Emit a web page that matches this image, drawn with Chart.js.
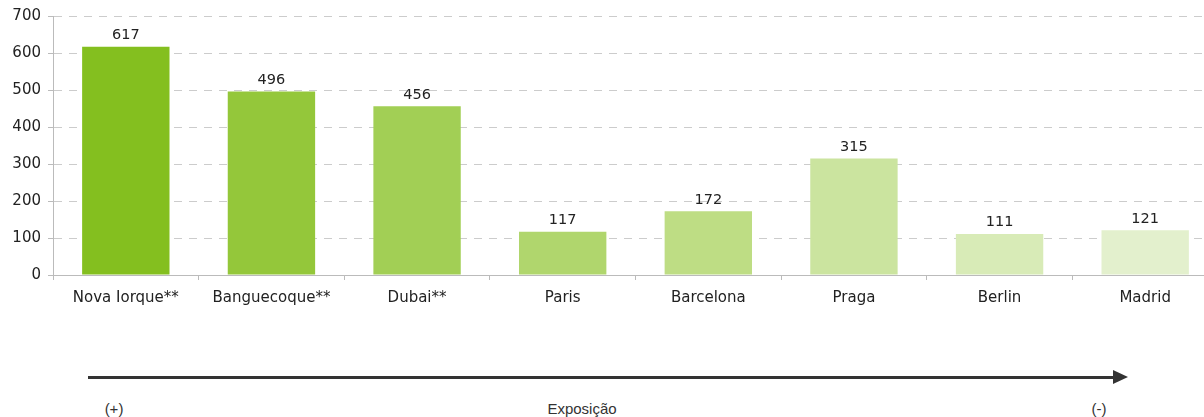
<!DOCTYPE html>
<html>
<head>
<meta charset="utf-8">
<script src="https://cdn.jsdelivr.net/npm/chart.js@4"></script>
<style>
  html, body { margin: 0; padding: 0; background: #fff; }
  body { width: 1204px; height: 417px; overflow: hidden; position: relative; }
  #wrap { position: absolute; left: 0; top: 0; width: 1204px; height: 330px; overflow: hidden; }
  #c { position: absolute; left: 0; top: 0; }
  .lbl { position: absolute; font-family: "Liberation Sans", Arial, sans-serif; font-size: 15px; color: #333; transform: translateX(-50%); white-space: nowrap; line-height: 18px; }
  #line { position: absolute; left: 88px; top: 376px; width: 1027px; height: 3px; background: #333; }
  #head { position: absolute; left: 1113px; top: 370px; width: 0; height: 0; border-top: 7.5px solid transparent; border-bottom: 7.5px solid transparent; border-left: 15px solid #333; }
</style>
</head>
<body>
<div id="wrap"><canvas id="c" width="1218" height="330"></canvas></div>
<div id="line"></div>
<div id="head"></div>
<div class="lbl" style="left:114px; top:400px;">(+)</div>
<div class="lbl" style="left:582px; top:400px;">Exposição</div>
<div class="lbl" style="left:1099px; top:400px;">(-)</div>
<script>
const categories = ["Nova Iorque**", "Banguecoque**", "Dubai**", "Paris", "Barcelona", "Praga", "Berlin", "Madrid"];
const values = [617, 496, 456, 117, 172, 315, 111, 121];
const barColors = ["#84BF1F", "#94C73A", "#A2CF55", "#B0D66D", "#BEDD84", "#CBE49F", "#D8EBB7", "#E3F0CD"];
const yTicks = [0, 100, 200, 300, 400, 500, 600, 700];

const FONT = '"DejaVu Sans", Verdana, sans-serif';

const valueLabels = {
  id: 'valueLabels',
  afterDatasetsDraw(chart) {
    const ctx = chart.ctx;
    const meta = chart.getDatasetMeta(0);
    ctx.save();
    ctx.font = '14.5px ' + FONT;
    ctx.fillStyle = '#222';
    ctx.textAlign = 'center';
    ctx.textBaseline = 'bottom';
    meta.data.forEach((bar, i) => {
      ctx.fillText(String(values[i]), bar.x, bar.y - 4);
    });
    ctx.restore();
  }
};

new Chart(document.getElementById('c'), {
  type: 'bar',
  data: {
    labels: categories,
    datasets: [{
      data: values,
      backgroundColor: barColors,
      borderWidth: 0,
      barPercentage: 0.6,
      categoryPercentage: 1.0
    }]
  },
  options: {
    responsive: false,
    animation: false,
    devicePixelRatio: 1,
    layout: { padding: { top: 16, right: 0, bottom: 0, left: 0 } },
    plugins: { legend: { display: false }, tooltip: { enabled: false } },
    scales: {
      x: {
        offset: true,
        grid: { drawOnChartArea: false, drawTicks: true, tickLength: 5, color: '#bbbbbb' },
        border: { color: '#bbbbbb', width: 1 },
        ticks: { color: '#222', font: { family: FONT, size: 15 }, padding: 9, maxRotation: 0, autoSkip: false },
        afterFit(scale) { scale.height = 55; }
      },
      y: {
        min: 0, max: 700,
        afterBuildTicks(scale) { scale.ticks = yTicks.map(v => ({ value: v })); },
        grid: { color: '#cccccc', tickLength: 5, tickColor: '#bbbbbb', tickBorderDash: [] },
        border: { color: '#bbbbbb', width: 1, dash: [8, 7] },
        ticks: { color: '#222', font: { family: FONT, size: 15 }, padding: 7 },
        afterFit(scale) { scale.width = 53; }
      }
    }
  },
  plugins: [valueLabels]
});
</script>
</body>
</html>
